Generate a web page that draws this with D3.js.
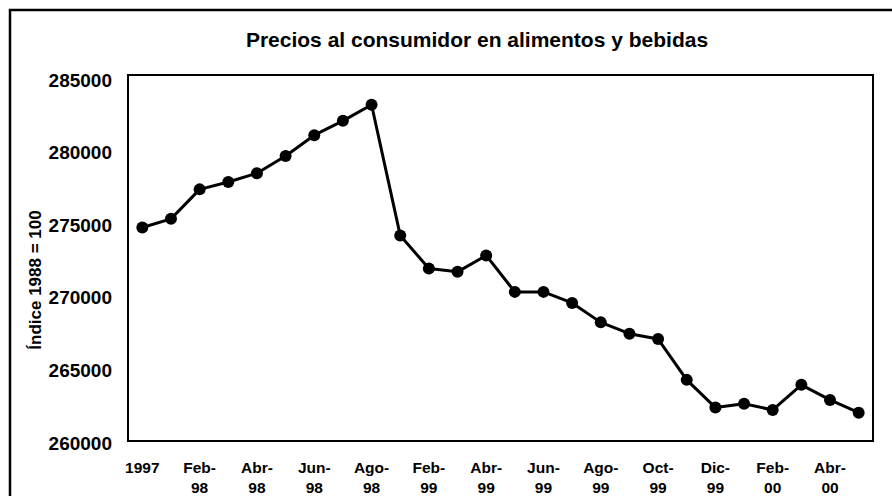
<!DOCTYPE html>
<html>
<head>
<meta charset="utf-8">
<script src="https://cdn.jsdelivr.net/npm/d3@7"></script>
<style>
  body { margin: 0; background: #fff; }
  svg { display: block; font-family: "Liberation Sans", Arial, sans-serif; }
</style>
</head>
<body>
<div id="chart"></div>
<script>
// periods (only every other one gets a label on the axis)
const periodos = [
  "1997", "Ene-98", "Feb-98", "Mar-98", "Abr-98", "May-98", "Jun-98", "Jul-98",
  "Ago-98", "Ene-99", "Feb-99", "Mar-99", "Abr-99", "May-99", "Jun-99", "Jul-99",
  "Ago-99", "Sep-99", "Oct-99", "Nov-99", "Dic-99", "Ene-00", "Feb-00", "Mar-00",
  "Abr-00", "May-00"
];
// índice de precios alimentos y bebidas
const indice = [
  274700, 275300, 277330, 277840, 278440, 279630, 281060, 282050,
  283160, 274160, 271880, 271650, 272780, 270270, 270270, 269510,
  268170, 267390, 267020, 264210, 262300, 262560, 262140, 263870,
  262830, 261950
];
const yTicks = [260000, 265000, 270000, 275000, 280000, 285000];

const width = 892, height = 496;
const margins = { left: 128, right: 19, top: 75, bottom: 55 };

const svg = d3.select("#chart")
  .append("svg")
  .attr("width", width)
  .attr("height", height);

// outer frame (runs off the right and bottom edge like the scan)
svg.append("rect")
  .attr("x", 10).attr("y", 10)
  .attr("width", 900).attr("height", 500)
  .attr("fill", "none").attr("stroke", "#000").attr("stroke-width", 2.5);

// SCALES
const xScale = d3.scalePoint()
  .domain(periodos)
  .range([margins.left, width - margins.right])
  .padding(0.5);

const yScale = d3.scaleLinear()
  .domain([260000, 285000])
  .range([height - margins.bottom, margins.top + 3]);

// plot area frame
svg.append("rect")
  .attr("x", margins.left).attr("y", margins.top)
  .attr("width", width - margins.left - margins.right)
  .attr("height", height - margins.top - margins.bottom)
  .attr("fill", "none").attr("stroke", "#000").attr("stroke-width", 2);

// Y axis labels
const yAxis = d3.axisLeft(yScale).tickValues(yTicks).tickSize(0).tickPadding(16)
  .tickFormat(d3.format("d"));
svg.append("g")
  .attr("transform", `translate(${margins.left}, 0)`)
  .call(yAxis)
  .call((g) => g.select(".domain").remove())
  .selectAll("text")
  .attr("dy", 8)
  .attr("font-family", "Liberation Sans, Arial, sans-serif")
  .attr("font-weight", "bold")
  .attr("font-size", 19)
  .attr("fill", "#000");

// X axis labels, two lines ("Feb-" / "98")
const xLabels = svg.append("g")
  .selectAll("text")
  .data(periodos.filter((d, i) => i % 2 === 0))
  .enter()
  .append("text")
  .attr("x", (d) => xScale(d))
  .attr("y", height - margins.bottom + 32)
  .attr("text-anchor", "middle")
  .attr("font-weight", "bold")
  .attr("font-size", 15.5)
  .attr("fill", "#000");

xLabels.each(function (d) {
  const parts = d.split("-");
  const t = d3.select(this);
  if (parts.length === 1) {
    t.text(d);
  } else {
    t.append("tspan").attr("x", xScale(d)).text(parts[0] + "-");
    t.append("tspan").attr("x", xScale(d)).attr("dy", 20).text(parts[1]);
  }
});

// line
const line = d3.line()
  .x((d, i) => xScale(periodos[i]))
  .y((d) => yScale(d));

svg.append("path")
  .datum(indice)
  .attr("d", line)
  .attr("fill", "none")
  .attr("stroke", "#000")
  .attr("stroke-width", 3)
  .attr("stroke-linejoin", "round");

// markers
svg.append("g")
  .selectAll("circle")
  .data(indice)
  .enter()
  .append("circle")
  .attr("cx", (d, i) => xScale(periodos[i]))
  .attr("cy", (d) => yScale(d))
  .attr("r", 6)
  .attr("fill", "#000");

// title
svg.append("text")
  .attr("x", 477)
  .attr("y", 47)
  .attr("text-anchor", "middle")
  .attr("font-weight", "bold")
  .attr("font-size", 21)
  .text("Precios al consumidor en alimentos y bebidas");

// y axis title
svg.append("text")
  .attr("transform", `translate(41, ${(margins.top + height - margins.bottom) / 2 + 22}) rotate(-90)`)
  .attr("text-anchor", "middle")
  .attr("font-weight", "bold")
  .attr("font-size", 17)
  .text("Índice 1988 = 100");
</script>
</body>
</html>
